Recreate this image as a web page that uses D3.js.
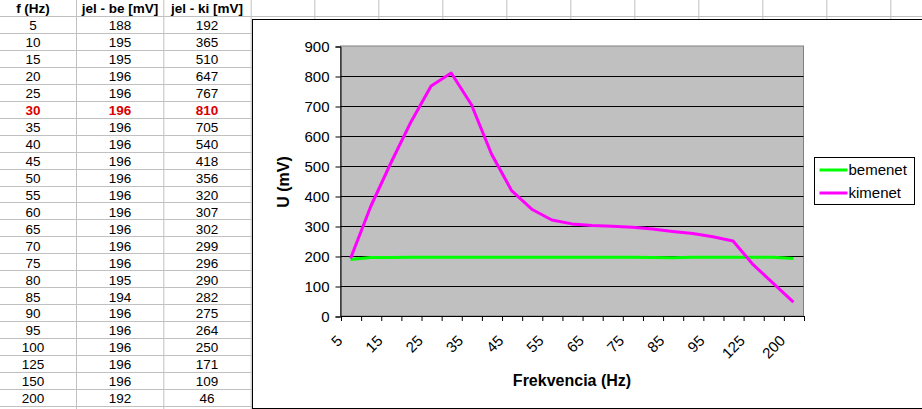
<!DOCTYPE html>
<html lang="hu">
<head>
<meta charset="UTF-8">
<title>Frekvencia</title>
<script src="https://cdn.jsdelivr.net/npm/d3@7"></script>
<style>
    body{ margin:0; background:#fff; }
    svg{ display:block; font-family: Arial, "Liberation Sans", sans-serif; }
    .cell{ font-size:13.5px; fill:#000; }
    .hdr{ font-size:13.5px; font-weight:bold; }
    .hot{ fill:#d80000; font-weight:bold; }
    .grid line{ stroke:#c0c0c0; }
    .tick text{ font-size:15px; }
    .ttl{ font-size:16px; font-weight:bold; }
</style>
</head>
<body>
<svg id="fig" width="922" height="409"></svg>
<script>
    // data read from the sheet
    let freq = [5,10,15,20,25,30,35,40,45,50,55,60,65,70,75,80,85,90,95,100,125,150,200]
    let bemenet = [188,195,195,196,196,196,196,196,196,196,196,196,196,196,196,195,194,196,196,196,196,196,192]
    let kimenet = [192,365,510,647,767,810,705,540,418,356,320,307,302,299,296,290,282,275,264,250,171,109,46]
    let headers = ["f (Hz)","jel - be [mV]","jel - ki [mV]"]
    let yTicks = [0,100,200,300,400,500,600,700,800,900]
    let seriesNames = ["bemenet","kimenet"]
    let seriesColors = ["#00ff00","#ff00ff"]
    let hotFreq = 30

    let svg = d3.select("#fig")

    // ---- spreadsheet grid ----
    let rowH = 16.95, row0 = 16
    let colX = [76,163.3,250.7]
    for(let x=314.3; x<922; x+=64) colX.push(x)
    let colMid = [33,120,207]

    let grid = svg.append("g").attr("class","grid")
    grid.selectAll(".v").data(colX).enter().append("line")
        .attr("x1",d=>d+0.5).attr("x2",d=>d+0.5)
        .attr("y1",0).attr("y2",409)
    grid.selectAll(".h").data(d3.range(freq.length+1)).enter().append("line")
        .attr("x1",0).attr("x2",922)
        .attr("y1",d=>Math.round(row0+d*rowH)+0.5)
        .attr("y2",d=>Math.round(row0+d*rowH)+0.5)

    svg.append("g").selectAll("text").data(headers).enter().append("text")
        .attr("class","cell hdr")
        .attr("x",(d,i)=>colMid[i]).attr("y",13)
        .attr("text-anchor","middle")
        .text(d=>d)

    let rows = svg.append("g").selectAll("g").data(freq).enter().append("g")
        .attr("transform",(d,i)=>"translate(0,"+(row0+i*rowH+14.3)+")")
    rows.each(function(f,i){
        let vals = [f, bemenet[i], kimenet[i]]
        d3.select(this).selectAll("text").data(vals).enter().append("text")
            .attr("class", f===hotFreq ? "cell hot" : "cell")
            .attr("x",(d,j)=>colMid[j])
            .attr("text-anchor","middle")
            .text(d=>d)
    })

    // ---- chart area ----
    svg.append("rect")
        .attr("x",252.5).attr("y",19.5)
        .attr("width",700).attr("height",389)
        .attr("fill","#fff").attr("stroke","#000")

    let pLeft = 340.5, pRight = 803.5, pTop = 46, pBottom = 316

    let x = d3.scaleBand().domain(d3.range(freq.length)).range([pLeft,pRight])
    let xb = d3.scaleLinear().domain([0,freq.length]).range([pLeft,pRight])
    let y = d3.scaleLinear().domain([0,900]).range([pBottom,pTop])

    svg.append("rect")
        .attr("x",pLeft).attr("y",pTop)
        .attr("width",pRight-pLeft).attr("height",pBottom-pTop)
        .attr("fill","#c0c0c0").attr("stroke","#808080")

    svg.append("g").selectAll("line").data(yTicks.filter(d=>d>0 && d<900)).enter().append("line")
        .attr("x1",pLeft).attr("x2",pRight)
        .attr("y1",d=>Math.round(y(d))+0.5).attr("y2",d=>Math.round(y(d))+0.5)
        .attr("stroke","#000")

    // y axis
    let yAxis = svg.append("g")
        .attr("transform","translate("+pLeft+",0.5)")
        .call(d3.axisLeft(y).tickValues(yTicks).tickSize(5).tickPadding(6))
    yAxis.selectAll("path,line").attr("stroke","#000")

    // x axis: ticks between categories, every other label
    let xTicks = svg.append("g")
        .attr("transform","translate(0.5,"+pBottom+")")
        .call(d3.axisBottom(xb).tickValues(d3.range(freq.length+1)).tickSize(5).tickFormat(""))
    xTicks.selectAll("path,line").attr("stroke","#000")

    let xLab = svg.append("g")
        .attr("transform","translate(0,"+pBottom+")")
        .call(d3.axisBottom(x).tickSize(0).tickFormat((d,i)=> i%2===0 ? freq[d] : ""))
    xLab.select(".domain").remove()
    xLab.selectAll("text")
        .attr("text-anchor","end")
        .attr("x",0).attr("y",0).attr("dy","0.35em")
        .attr("transform","translate(-11,22) rotate(-45)")

    // series lines
    let line = d3.line().x((d,i)=>x(i)+x.bandwidth()/2).y(d=>y(d))
    let series = [bemenet, kimenet]
    svg.append("g").selectAll("path").data(series).enter().append("path")
        .attr("d",d=>line(d))
        .attr("fill","none")
        .attr("stroke",(d,i)=>seriesColors[i])
        .attr("stroke-width",3)
        .attr("stroke-linejoin","round")

    // titles
    svg.append("text").attr("class","ttl")
        .attr("transform","translate(289,182) rotate(-90)")
        .attr("text-anchor","middle")
        .text("U (mV)")
    svg.append("text").attr("class","ttl")
        .attr("x",(pLeft+pRight)/2).attr("y",386)
        .attr("text-anchor","middle")
        .text("Frekvencia (Hz)")

    // legend
    let lg = svg.append("g").attr("transform","translate(814.5,157.5)")
    lg.append("rect").attr("width",100).attr("height",47)
        .attr("fill","#fff").attr("stroke","#000")
    let items = lg.selectAll("g").data(seriesNames).enter().append("g")
        .attr("transform",(d,i)=>"translate(0,"+(12.5+i*23)+")")
    items.append("line").attr("x1",5).attr("x2",33)
        .attr("stroke",(d,i)=>seriesColors[i]).attr("stroke-width",3)
    items.append("text").attr("x",34).attr("dy","0.35em")
        .style("font-size","15px")
        .text(d=>d)
</script>
</body>
</html>
